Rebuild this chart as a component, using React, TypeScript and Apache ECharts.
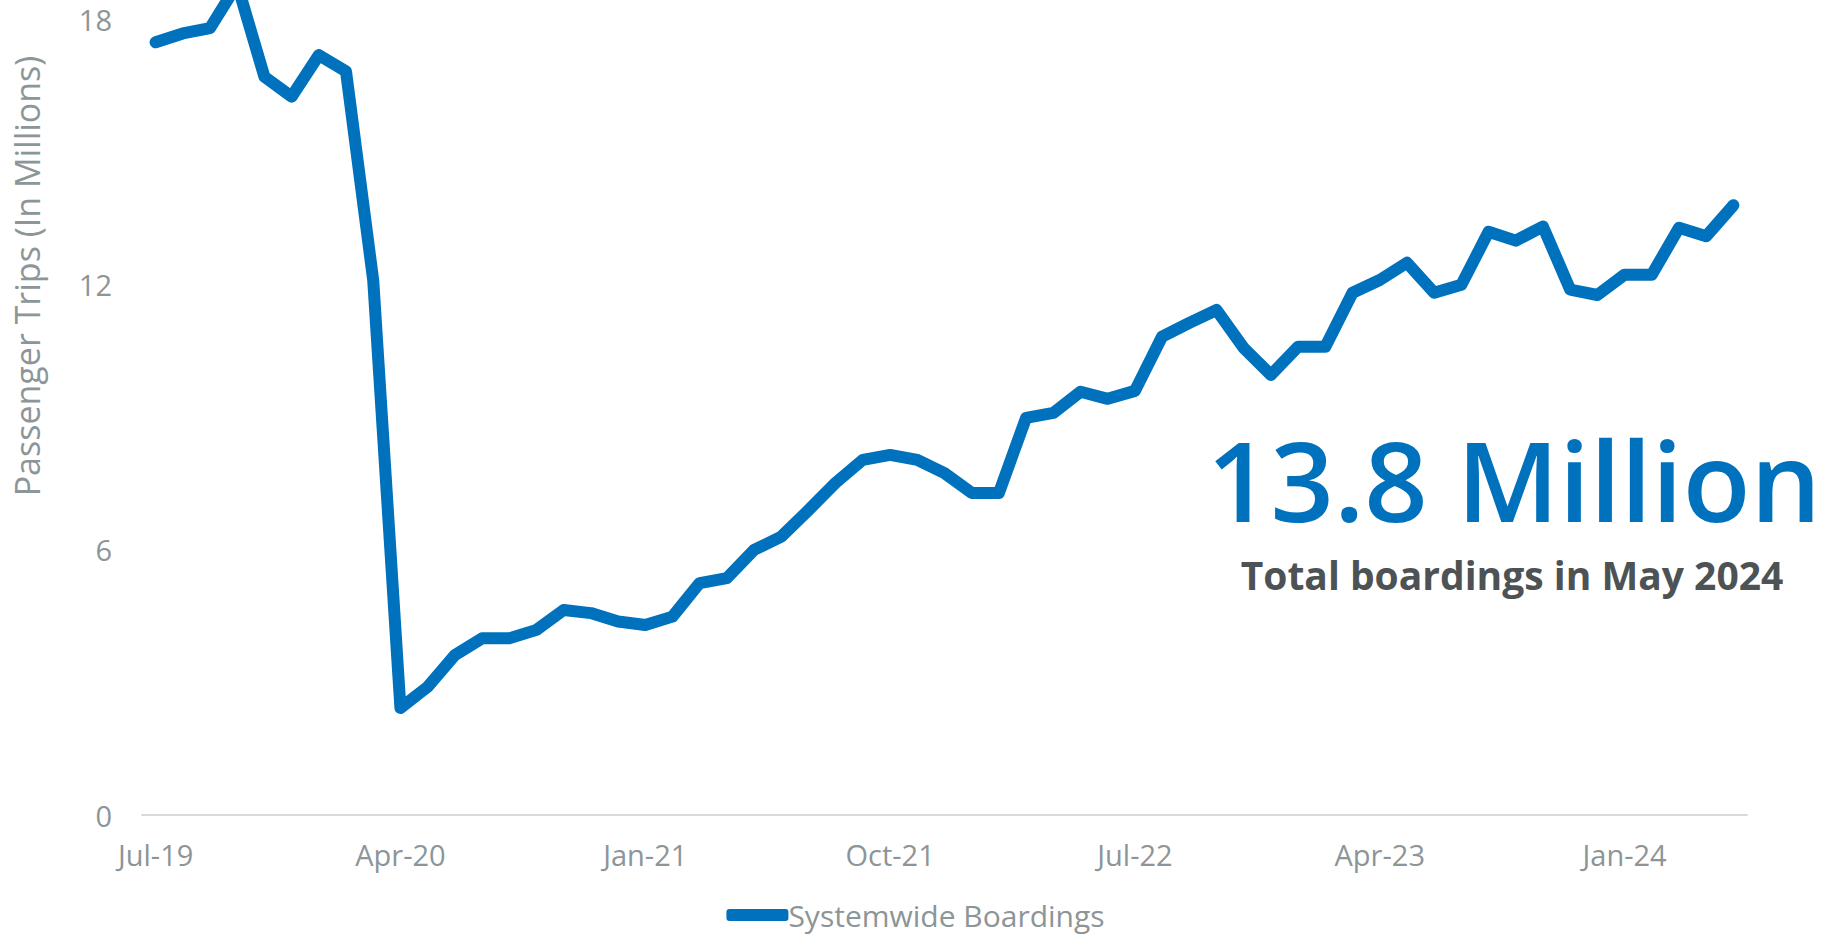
import React, { useEffect, useRef } from "react";
import * as echarts from "echarts";

const months: string[] = [
  "Jul-19", "Aug-19", "Sep-19", "Oct-19", "Nov-19", "Dec-19",
  "Jan-20", "Feb-20", "Mar-20", "Apr-20", "May-20", "Jun-20", "Jul-20", "Aug-20", "Sep-20", "Oct-20", "Nov-20", "Dec-20",
  "Jan-21", "Feb-21", "Mar-21", "Apr-21", "May-21", "Jun-21", "Jul-21", "Aug-21", "Sep-21", "Oct-21", "Nov-21", "Dec-21",
  "Jan-22", "Feb-22", "Mar-22", "Apr-22", "May-22", "Jun-22", "Jul-22", "Aug-22", "Sep-22", "Oct-22", "Nov-22", "Dec-22",
  "Jan-23", "Feb-23", "Mar-23", "Apr-23", "May-23", "Jun-23", "Jul-23", "Aug-23", "Sep-23", "Oct-23", "Nov-23", "Dec-23",
  "Jan-24", "Feb-24", "Mar-24", "Apr-24", "May-24",
];

const boardings: number[] = [
  17.49, 17.69, 17.81, 18.8, 16.71, 16.26,
  17.2, 16.83, 12.1, 2.42, 2.9, 3.62, 4.0, 4.0, 4.19, 4.64, 4.57, 4.38,
  4.3, 4.49, 5.25, 5.36, 6.0, 6.3, 6.9, 7.52, 8.04, 8.15, 8.04, 7.74,
  7.29, 7.29, 8.99, 9.1, 9.58, 9.42, 9.6, 10.83, 11.14, 11.43, 10.57, 9.96,
  10.6, 10.6, 11.82, 12.11, 12.5, 11.82, 12.0, 13.2, 13.0, 13.32, 11.89, 11.77,
  12.23, 12.23, 13.29, 13.1, 13.8,
];

const seriesName = "Systemwide Boardings";
const yAxisTitle = "Passenger Trips (In Millions)";
const headline = "13.8 Million";
const subline = "Total boardings in May 2024";

const OFFSET = 300;
const W = 1831;
const H = 935 + OFFSET;
const BLUE = "#0071BC";
const GRAY = "#8C9597";
const FONT = "Open Sans";

export default function App() {
  const ref = useRef<HTMLDivElement>(null);

  useEffect(() => {
    if (!ref.current) return;
    const chart = echarts.init(ref.current, undefined, { renderer: "svg" });
    chart.setOption({
      animation: false,
      backgroundColor: "#ffffff",
      textStyle: { fontFamily: FONT },
      grid: { left: 142, right: 84, top: 37, bottom: 120, containLabel: false },
      legend: {
        data: [seriesName],
        left: "center",
        top: 1195,
        icon: "roundRect",
        itemWidth: 62,
        itemHeight: 12,
        textStyle: { color: GRAY, fontSize: 30, fontFamily: FONT, padding: [0, 0, 0, -5] },
      },
      xAxis: {
        type: "category",
        data: months,
        boundaryGap: true,
        axisLine: { show: true, lineStyle: { color: "#D9D9D9", width: 2 } },
        axisTick: { show: false },
        axisLabel: {
          interval: 8,
          color: GRAY,
          fontSize: 29,
          fontFamily: FONT,
          margin: 25,
        },
        splitLine: { show: false },
      },
      yAxis: {
        type: "value",
        min: 0,
        max: 24.4,
        interval: 6,
        name: yAxisTitle,
        nameLocation: "middle",
        nameGap: 98,
        nameTextStyle: { color: GRAY, fontSize: 34, fontFamily: FONT },
        axisLine: { show: false },
        axisTick: { show: false },
        splitLine: { show: false },
        axisLabel: { color: GRAY, fontSize: 29, fontFamily: FONT, margin: 30 },
      },
      series: [
        {
          name: seriesName,
          type: "line",
          data: boardings,
          showSymbol: false,
          symbol: "none",
          lineStyle: { color: BLUE, width: 12, cap: "round", join: "round" },
          itemStyle: { color: BLUE },
        },
      ],
      graphic: [
        {
          type: "text",
          x: 1514,
          y: 479 + OFFSET,
          style: {
            text: headline,
            fill: BLUE,
            font: `600 111px "${FONT}"`,
            align: "center",
            verticalAlign: "middle",
          },
        },
        {
          type: "text",
          x: 1512,
          y: 574 + OFFSET,
          style: {
            text: subline,
            fill: "#4D5254",
            font: `bold 39px "${FONT}"`,
            align: "center",
            verticalAlign: "middle",
          },
        },
      ],
    });
    return () => chart.dispose();
  }, []);

  return (
    <div
      ref={ref}
      style={{ position: "absolute", left: 0, top: -OFFSET, width: W, height: H }}
    />
  );
}
